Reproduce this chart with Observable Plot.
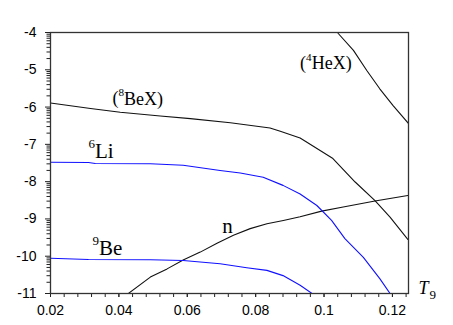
<!DOCTYPE html>
<html>
<head>
<meta charset="utf-8">
<script src="https://cdn.jsdelivr.net/npm/d3@7"></script>
<script src="https://cdn.jsdelivr.net/npm/@observablehq/plot@0.6"></script>
<style>
  html, body { margin: 0; padding: 0; background: #fff; }
</style>
</head>
<body>
<div id="chart"></div>
<script>
// ---- data (T9, log10 abundance) ----
const beXT  = [0.02, 0.0317, 0.0404, 0.0521, 0.0609, 0.0726, 0.0842, 0.0872, 0.0930, 0.1026, 0.1091, 0.1149, 0.1193, 0.1245];
const beXY  = [-5.89, -6.04, -6.14, -6.24, -6.31, -6.42, -6.56, -6.65, -6.83, -7.38, -8.01, -8.51, -8.95, -9.55];

const heXT  = [0.1039, 0.1086, 0.1125, 0.1163, 0.1202, 0.1246];
const heXY  = [-4.00, -4.48, -5.02, -5.51, -5.96, -6.43];

const li6T  = [0.02, 0.0311, 0.0331, 0.0492, 0.0588, 0.0696, 0.0755, 0.0822, 0.0880, 0.0930, 0.0979, 0.1022, 0.1061, 0.1115, 0.1163, 0.1193];
const li6Y  = [-7.478, -7.486, -7.513, -7.521, -7.559, -7.70, -7.77, -7.88, -8.10, -8.33, -8.64, -9.04, -9.53, -10.03, -10.60, -11.0];

const be9T  = [0.02, 0.0311, 0.0492, 0.0588, 0.0696, 0.0774, 0.0833, 0.0880, 0.0930, 0.0965];
const be9Y  = [-10.053, -10.087, -10.095, -10.114, -10.203, -10.31, -10.38, -10.52, -10.78, -11.0];

const nT    = [0.04277, 0.0492, 0.0541, 0.0588, 0.0638, 0.0687, 0.0735, 0.0784, 0.0833, 0.0881, 0.0930, 0.0993, 0.1056, 0.1149, 0.1245];
const nY    = [-11.0, -10.56, -10.34, -10.10, -9.89, -9.65, -9.44, -9.26, -9.13, -9.04, -8.94, -8.79, -8.68, -8.52, -8.37];

// ---- tick labels ----
const xTicks = [0.02, 0.04, 0.06, 0.08, 0.1, 0.12];
const yTicks = [-11, -10, -9, -8, -7, -6, -5, -4];
const xMinor = d3.range(0, 27).map(k => 0.02 + 0.004 * k);
const yMinor = d3.range(-11, -4).flatMap(n => d3.range(2, 10).map(k => n + Math.log10(k)));

// ---- annotations ----
const bigLabels = ["\u2076Li", "\u2079Be", "n"];
const bigT      = [0.0311, 0.0323, 0.0702];
const bigY      = [-7.352, -9.953, -9.39];
const parLabels = ["(\u2078BeX)", "(\u2074HeX)"];
const parT      = [0.0381, 0.0930];
const parY      = [-5.931, -4.973];

const toRows = (T, Y) => T.map((t, i) => ({t, y: Y[i]}));
const bigRows = bigLabels.map((s, i) => ({s, t: bigT[i], y: bigY[i]}));
const parRows = parLabels.map((s, i) => ({s, t: parT[i], y: parY[i]}));

const serif = "Liberation Serif, Times New Roman, DejaVu Serif, serif";
const blue = "#1010ff";

const chart = Plot.plot({
  width: 453,
  height: 325,
  marginLeft: 50,
  marginRight: 45,
  marginTop: 32,
  marginBottom: 32,
  style: {fontFamily: "Liberation Sans, Arial, sans-serif", fontSize: "14px", color: "black", background: "white"},
  x: {domain: [0.02, 0.1247], label: null},
  y: {domain: [-11, -4], label: null},
  marks: [
    Plot.axisX(xMinor, {tickSize: 4, tickFormat: () => "", stroke: "#222"}),
    Plot.axisX(xTicks, {tickSize: 4, tickPadding: 8, tickFormat: d => String(d), fontSize: 14, stroke: "#222"}),
    Plot.axisY(yMinor, {tickSize: 3.5, tickFormat: () => "", stroke: "#222"}),
    Plot.axisY(yTicks, {tickSize: 5, tickPadding: 9, tickFormat: d => String(d), fontSize: 14, stroke: "#222"}),
    Plot.line(toRows(beXT, beXY), {x: "t", y: "y", stroke: "#111", strokeWidth: 1.1, clip: true}),
    Plot.line(toRows(heXT, heXY), {x: "t", y: "y", stroke: "#111", strokeWidth: 1.1, clip: true}),
    Plot.line(toRows(nT, nY),     {x: "t", y: "y", stroke: "#111", strokeWidth: 1.1, clip: true}),
    Plot.line(toRows(li6T, li6Y), {x: "t", y: "y", stroke: blue, strokeWidth: 1.1, clip: true}),
    Plot.line(toRows(be9T, be9Y), {x: "t", y: "y", stroke: blue, strokeWidth: 1.1, clip: true}),
    Plot.frame({stroke: "#333", strokeWidth: 1.3}),
    Plot.text(bigRows, {x: "t", y: "y", text: "s", textAnchor: "start", lineAnchor: "bottom", fontFamily: serif, fontSize: 21, fill: "black"}),
    Plot.text(parRows, {x: "t", y: "y", text: "s", textAnchor: "start", lineAnchor: "bottom", fontFamily: serif, fontSize: 18, fill: "black"}),
    Plot.text(["T"], {frameAnchor: "bottom-right", dx: 10, textAnchor: "start", lineAnchor: "bottom", fontFamily: serif, fontStyle: "italic", fontSize: 18, fill: "black"}),
    Plot.text(["9"], {frameAnchor: "bottom-right", dx: 21, dy: 5, textAnchor: "start", lineAnchor: "bottom", fontFamily: serif, fontSize: 13, fill: "black"})
  ]
});

// render Unicode superscript digits as raised, smaller tspans
const supMap = {"\u2070":"0","\u00b9":"1","\u00b2":"2","\u00b3":"3","\u2074":"4","\u2075":"5","\u2076":"6","\u2077":"7","\u2078":"8","\u2079":"9"};
d3.select(chart).selectAll("text").each(function() {
  const s = this.textContent;
  if (this.children.length || ![...s].some(c => supMap[c])) return;
  this.textContent = "";
  let raised = false;
  for (const c of s) {
    const isSup = !!supMap[c];
    const ts = document.createElementNS("http://www.w3.org/2000/svg", "tspan");
    ts.textContent = isSup ? supMap[c] : c;
    if (isSup) { ts.setAttribute("font-size", "0.62em"); ts.setAttribute("dy", "-0.72em"); raised = true; }
    else if (raised) { ts.setAttribute("dy", "0.45em"); raised = false; }
    this.appendChild(ts);
  }
});
document.getElementById("chart").appendChild(chart);
</script>
</body>
</html>
